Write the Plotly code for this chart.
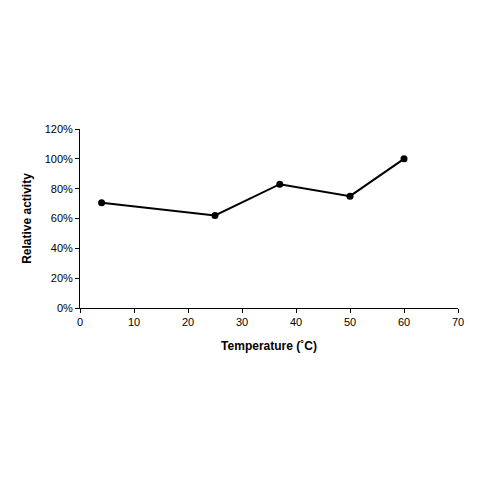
import plotly.graph_objects as go

temperature = [4, 25, 37, 50, 60]
activity = [0.705, 0.62, 0.83, 0.75, 1.00]

fig = go.Figure()
fig.add_trace(go.Scatter(
    x=temperature, y=activity, mode='lines+markers',
    line=dict(color='black', width=2),
    marker=dict(color='black', size=7),
    showlegend=False,
))

axis_font = dict(family='Liberation Sans, Arial', size=11, color='black')
fig.update_layout(
    width=480, height=480,
    margin=dict(l=72, r=30, t=121, b=180),
    plot_bgcolor='white', paper_bgcolor='white',
    font=axis_font,
    xaxis=dict(
        range=[0, 70], dtick=10, showgrid=False, zeroline=False,
        showline=True, linecolor='black', linewidth=1,
        ticks='outside', ticklen=4, tickcolor='black',
        title=dict(text='<b>Temperature (˚C)</b>', font=dict(size=12), standoff=14),
    ),
    yaxis=dict(
        range=[0, 1.2], dtick=0.2, tickformat='.0%', showgrid=False, zeroline=False,
        showline=True, linecolor='black', linewidth=1,
        ticks='outside', ticklen=4, tickcolor='black',
        title=dict(text='<b>Relative activity</b>', font=dict(size=12), standoff=10),
    ),
)

fig.write_html("out.html")
